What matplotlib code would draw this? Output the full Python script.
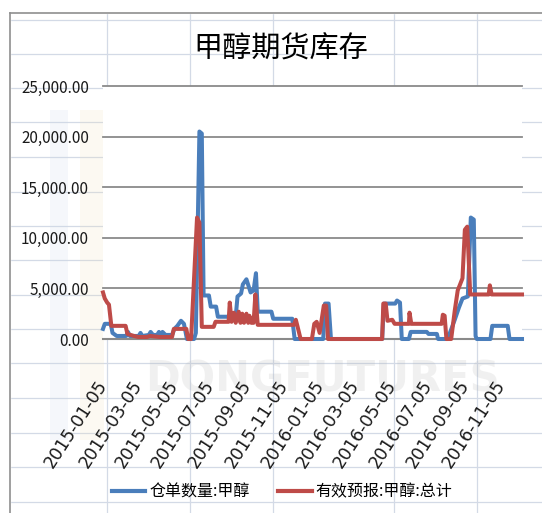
import matplotlib
matplotlib.use("Agg")
import matplotlib.pyplot as plt
import pandas as pd
from matplotlib.lines import Line2D

# ---------------- data ----------------
title = "甲醇期货库存"
series_names = ["仓单数量:甲醇", "有效预报:甲醇:总计"]
tick_dates = ["2015-01-05", "2015-03-05", "2015-05-05", "2015-07-05", "2015-09-05",
              "2015-11-05", "2016-01-05", "2016-03-05", "2016-05-05", "2016-07-05",
              "2016-09-05", "2016-11-05"]
y_ticks = [0, 5000, 10000, 15000, 20000, 25000]

warrant_dates = ["2015-01-05", "2015-01-08", "2015-01-18", "2015-01-21", "2015-01-28",
                 "2015-02-13", "2015-02-16", "2015-02-19", "2015-03-06", "2015-03-09",
                 "2015-03-12", "2015-03-23", "2015-03-26", "2015-03-30", "2015-04-06",
                 "2015-04-09", "2015-04-13", "2015-04-15", "2015-04-20", "2015-05-01",
                 "2015-05-05", "2015-05-10", "2015-05-16", "2015-05-21", "2015-05-26",
                 "2015-06-07", "2015-06-10", "2015-06-16", "2015-06-20", "2015-06-23",
                 "2015-07-02", "2015-07-05", "2015-07-14", "2015-07-17", "2015-08-16",
                 "2015-08-19", "2015-08-25", "2015-08-28", "2015-09-03", "2015-09-10",
                 "2015-09-15", "2015-09-19", "2015-09-22", "2015-10-15", "2015-10-18",
                 "2015-11-19", "2015-11-23", "2016-01-10", "2016-01-13", "2016-01-19",
                 "2016-01-23", "2016-04-18", "2016-04-21", "2016-05-10", "2016-05-13",
                 "2016-05-18", "2016-05-21", "2016-06-02", "2016-06-05", "2016-07-02",
                 "2016-07-05", "2016-07-19", "2016-07-21", "2016-08-06", "2016-08-13",
                 "2016-08-18", "2016-08-25", "2016-08-31", "2016-09-09", "2016-09-14",
                 "2016-09-19", "2016-09-22", "2016-09-24", "2016-10-17", "2016-10-20",
                 "2016-11-15", "2016-11-18", "2016-12-09"]
warrant_values = [1000, 1500, 1500, 600, 300,
                  300, 700, 300, 300, 600,
                  300, 400, 700, 400, 400,
                  700, 400, 700, 400, 400,
                  1000, 1300, 1800, 1500, 0,
                  0, 600, 20500, 20300, 4300,
                  4300, 3200, 3200, 2200, 2200,
                  4200, 4500, 5400, 5900, 4600,
                  4800, 6500, 2700, 2700, 2000,
                  2000, 0, 0, 3500, 3500,
                  0, 0, 3500, 3500, 3800,
                  3600, 0, 0, 700, 700,
                  500, 500, 0, 0, 1100,
                  1900, 3100, 4000, 4200, 12000,
                  11800, 300, 0, 0, 1300,
                  1300, 0, 0]

forecast_dates = ["2015-01-05", "2015-01-08", "2015-01-12", "2015-01-15", "2015-01-19",
                  "2015-02-12", "2015-02-15", "2015-02-26", "2015-03-05", "2015-03-20",
                  "2015-03-25", "2015-04-10", "2015-05-01", "2015-05-04", "2015-05-25",
                  "2015-05-28", "2015-06-02", "2015-06-12", "2015-06-16", "2015-06-20",
                  "2015-07-10", "2015-07-13", "2015-08-04", "2015-08-06", "2015-08-09",
                  "2015-08-13", "2015-08-16", "2015-08-21", "2015-08-24", "2015-08-27",
                  "2015-08-30", "2015-09-03", "2015-09-06", "2015-09-08", "2015-09-11",
                  "2015-09-15", "2015-09-18", "2015-09-22", "2015-11-22", "2015-11-25",
                  "2015-11-28", "2015-12-03", "2015-12-22", "2015-12-26", "2015-12-30",
                  "2016-01-04", "2016-01-11", "2016-01-15", "2016-01-18", "2016-04-18",
                  "2016-04-20", "2016-04-24", "2016-04-27", "2016-05-05", "2016-05-09",
                  "2016-06-02", "2016-06-03", "2016-06-06", "2016-07-27", "2016-07-29",
                  "2016-08-01", "2016-08-04", "2016-08-12", "2016-08-18", "2016-08-23",
                  "2016-08-31", "2016-09-04", "2016-09-08", "2016-09-13", "2016-10-14",
                  "2016-10-16", "2016-10-19", "2016-12-09"]
forecast_values = [4600, 4000, 3600, 3400, 1300,
                   1300, 500, 300, 200, 200,
                   300, 200, 200, 1000, 1000,
                   0, 0, 12000, 11500, 1200,
                   1200, 1700, 1700, 3600, 1700,
                   2600, 1600, 2700, 1600, 2500,
                   1600, 2500, 1600, 2300, 1600,
                   1600, 4400, 1400, 1400, 1900,
                   1200, 0, 0, 1500, 1700,
                   600, 3300, 3300, 0, 0,
                   3500, 3500, 1800, 1900, 1500,
                   1500, 2600, 1500, 1500, 2400,
                   2300, 0, 0, 2800, 4800,
                   6000, 10800, 11100, 4400, 4400,
                   5300, 4400, 4400]

# ---------------- figure ----------------
W, H = 542, 513
fig = plt.figure(figsize=(W / 100, H / 100), dpi=100)
fig.patch.set_facecolor("white")
CJK = ["Noto Sans CJK SC", "DejaVu Sans"]

# spreadsheet background
bg = fig.add_axes([0, 0, 1, 1], zorder=0)
bg.set_xlim(0, W)
bg.set_ylim(H, 0)
bg.axis("off")
for yy in [20, 54, 88, 122, 157, 192, 226, 260, 295, 329, 363, 398, 433, 467, 502]:
    bg.plot([0, W], [yy, yy], color="#d3dae6", lw=0.9, zorder=1)
for xx in [107, 190, 273, 394, 477]:
    bg.plot([xx, xx], [0, H], color="#d3dae6", lw=0.9, zorder=1)
bg.fill_between([0, 10], 0, H, color="white", zorder=1.5)
bg.fill_between([0, W], 0, 13, color="white", zorder=1.5)
bg.plot([10, 10], [13, H], color="#8f8f8f", lw=1.2, zorder=2)
bg.plot([10, W], [13, 13], color="#8f8f8f", lw=1.2, zorder=2)
# faint watermark
bg.fill_between([50, 68], 110, 440, color="#c9d6ea", alpha=0.18, lw=0, zorder=1.8)
bg.fill_between([80, 104], 110, 440, color="#f1e3bf", alpha=0.2, lw=0, zorder=1.8)
bg.text(322, 380, "DONGFUTURES", fontsize=30, fontweight="bold",
        family="DejaVu Sans", color="#b0b0b0",
        alpha=0.18, ha="center", va="center", zorder=1.9)

# main plot
ax = fig.add_axes([103 / W, 1 - 339 / H, (522 - 103) / W, (339 - 86) / H], zorder=2)
ax.set_facecolor("white")
blue = "#4a7ebb"
red = "#be4b48"
ax.plot(pd.to_datetime(warrant_dates), warrant_values, color=blue, lw=2.9,
        solid_joinstyle="round", clip_on=False, zorder=3)
ax.plot(pd.to_datetime(forecast_dates), forecast_values, color=red, lw=2.9,
        solid_joinstyle="round", clip_on=False, zorder=4)
ax.set_xlim(pd.Timestamp("2015-01-05"), pd.Timestamp("2016-12-09"))
ax.set_ylim(0, 25000)

ax.set_yticks(y_ticks)
ax.set_yticklabels([f"{v:,.2f}" for v in y_ticks],
                   family=CJK, fontsize=11, color="#1a1a1a")
ax.tick_params(axis="y", length=0, pad=10)
ax.yaxis.grid(True, color="#8a8a8a", lw=1.3)
for gl in ax.get_ygridlines():
    gl.set_clip_on(False)
ax.set_axisbelow(True)
for s in ["left", "right", "top"]:
    ax.spines[s].set_visible(False)
ax.spines["bottom"].set_color("#8a8a8a")
ax.spines["bottom"].set_linewidth(1.5)

ax.set_xticks(pd.to_datetime(tick_dates))
ax.set_xticklabels(tick_dates, rotation=57, ha="right", va="center",
                   rotation_mode="anchor", fontsize=12.5, color="#1a1a1a",
                   family="DejaVu Sans")
ax.tick_params(axis="x", length=0, pad=31)

fig.text(281 / W, 1 - 50 / H, title, fontsize=21, family=CJK,
         ha="center", va="center", color="black")

handles = [Line2D([], [], color=blue, lw=3), Line2D([], [], color=red, lw=3)]
leg = fig.legend(handles, series_names, loc="center", ncol=2,
                 bbox_to_anchor=(282 / W, 1 - 492 / H), frameon=False,
                 prop={"family": CJK, "size": 11.5},
                 handlelength=2.1, handletextpad=0.25, columnspacing=1.8)

fig.savefig("out.png", dpi=100, facecolor="white")
